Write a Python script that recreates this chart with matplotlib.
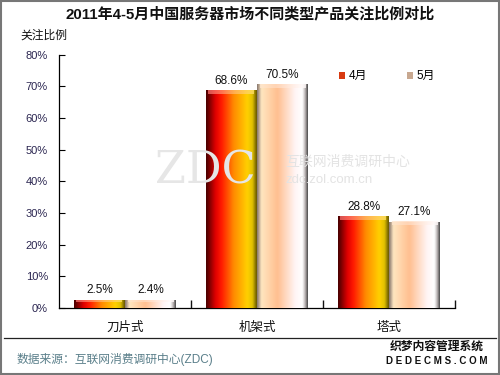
import numpy as np
import matplotlib
matplotlib.use("Agg")
import matplotlib.pyplot as plt
from matplotlib.colors import LinearSegmentedColormap
from matplotlib.patches import Rectangle
from matplotlib.lines import Line2D

categories = ["刀片式", "机架式", "塔式"]
series_names = ["4月", "5月"]
april = [2.5, 68.6, 28.8]
may = [2.4, 70.5, 27.1]
yticks = [0, 10, 20, 30, 40, 50, 60, 70, 80]

FONT = ["Liberation Sans", "Noto Sans CJK SC", "DejaVu Sans"]
plt.rcParams["font.family"] = FONT

cmap_apr = LinearSegmentedColormap.from_list("apr", [
    (0.0, "#4a0000"), (0.18, "#e00000"), (0.3, "#ff1a00"),
    (0.55, "#ff8c00"), (0.82, "#ffd000"), (0.92, "#e0c000"), (1.0, "#6a5a00")])
cmap_may = LinearSegmentedColormap.from_list("may", [
    (0.0, "#8a7a70"), (0.08, "#ffe6c0"), (0.4, "#ffbf90"),
    (0.75, "#fff4f4"), (0.9, "#ffffff"), (0.96, "#b0a8a8"), (1.0, "#505050")])

fig = plt.figure(figsize=(5, 3.75), dpi=100)
ax = fig.add_axes([0.118, 0.179, 0.792, 0.675])

x = np.arange(len(categories))
w = 0.386
grad = np.linspace(0, 1, 64).reshape(1, -1)

def draw(xs, vals, cmap, label):
    bars = ax.bar(xs, vals, width=w, color="none", edgecolor="none", label=label, zorder=2)
    for b in bars:
        x0, y0 = b.get_x(), b.get_y()
        x1, y1 = x0 + b.get_width(), y0 + b.get_height()
        ax.imshow(cmap(grad), extent=[x0, x1, y0, y1], aspect="auto",
                  interpolation="bicubic", zorder=3)
        bev = min(1.0, b.get_height() * 0.25)
        top = cmap(grad * 0.6 + 0.2)
        top[..., :3] = top[..., :3] * 0.6 + 0.4
        ax.imshow(top, extent=[x0 + 0.02, x1 - 0.02, y1 - bev, y1], aspect="auto",
                  interpolation="bicubic", zorder=4, alpha=0.8)
    return bars

draw(x - w / 2 - 0.003, april, cmap_apr, series_names[0])
draw(x + w / 2 + 0.003, may, cmap_may, series_names[1])

for xs, vals in ((x - w / 2, april), (x + w / 2, may)):
    for xi, v in zip(xs, vals):
        ax.text(xi, v + 1.3, f"{v:.1f}%", ha="center", va="bottom",
                fontsize=8.5, color="#111111", zorder=5)

ax.set_xlim(-0.5, 2.5)
ax.set_ylim(0, 80)
ax.set_yticks(yticks)
ax.set_yticklabels([f"{t}%" for t in yticks], color="#2a2550", fontsize=8)
ax.set_xticks(x)
ax.set_xticklabels(categories, fontsize=9, color="#111111")
ax.set_xticks([0.5, 1.5, 2.5], minor=True)
ax.tick_params(axis="x", which="major", length=0, pad=10)
ax.tick_params(axis="x", which="minor", direction="in", length=6, width=1.0, color="#111111")
ax.tick_params(axis="y", direction="in", length=4, width=0.8, pad=8)
for s in ("top", "right"):
    ax.spines[s].set_visible(False)
for s in ("left", "bottom"):
    ax.spines[s].set_linewidth(0.9)
ax.set_facecolor("none")

handles = [Rectangle((0, 0), 1, 1, facecolor="#d83a10", edgecolor="none"),
           Rectangle((0, 0), 1, 1, facecolor="#c8a890", edgecolor="none")]
ax.legend(handles, series_names, loc="upper left", bbox_to_anchor=(0.68, 0.98),
          ncol=2, frameon=False, fontsize=8.5, handlelength=0.5, handleheight=0.5,
          handletextpad=0.3, columnspacing=3.4)

fig.text(0.41, 0.545, "ZDC", fontsize=32, color="#e6e6e6", ha="center", va="center",
         family=["DejaVu Serif"], zorder=0)
fig.text(0.57, 0.568, "互联网消费调研中心", fontsize=10, color="#e3e3e3", ha="left", va="center", zorder=0)
fig.text(0.57, 0.52, "zdc.zol.com.cn", fontsize=9.5, color="#e3e3e3", ha="left", va="center", zorder=0)

fig.text(0.5, 0.962, "2011年4-5月中国服务器市场不同类型产品关注比例对比", ha="center", va="center",
         fontsize=10.8, fontweight="bold", color="#111111")
fig.text(0.04, 0.905, "关注比例", ha="left", va="center", fontsize=8.5, color="#111111")

fig.add_artist(Line2D([0.008, 0.992], [0.099, 0.099], color="#222222", lw=0.9))
fig.text(0.034, 0.04, "数据来源：互联网消费调研中心(ZDC)", ha="left", va="center",
         fontsize=8.5, color="#5a7f8a")
fig.text(0.873, 0.075, "织梦内容管理系统", ha="center", va="center", fontsize=8.5,
         fontweight="bold", color="#111111")
fig.text(0.873, 0.037, "D E D E C M S . C O M", ha="center", va="center", fontsize=7,
         fontweight="bold", color="#111111")
fig.add_artist(Rectangle((0.002, 0.003), 0.996, 0.994, transform=fig.transFigure,
                         fill=False, edgecolor="#777777", lw=1.5))

fig.savefig("out.png", dpi=100)
